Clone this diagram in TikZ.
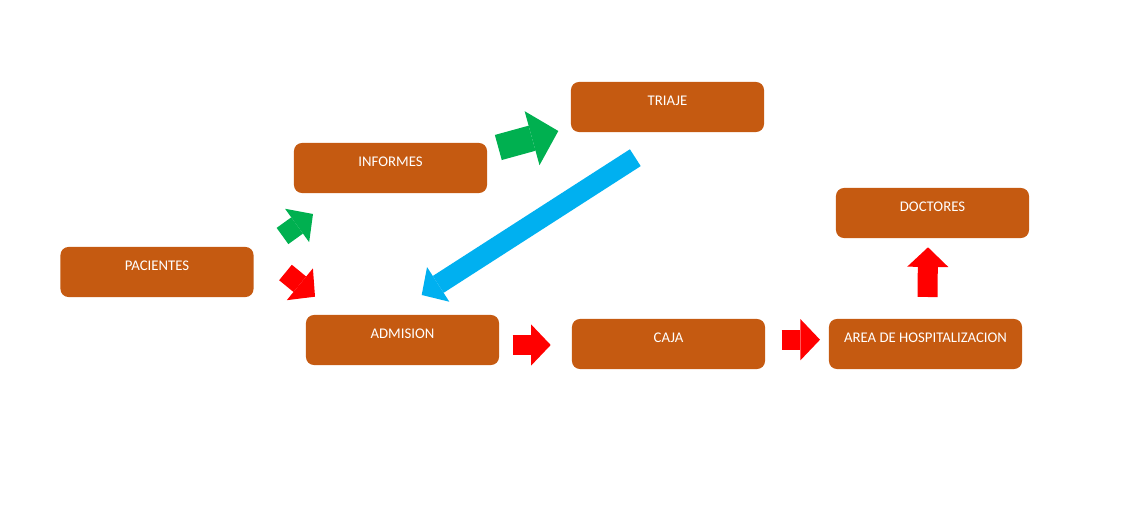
\documentclass[tikz,border=0pt]{standalone}
\usepackage{fontspec}
\setmainfont{Carlito}
\usetikzlibrary{arrows.meta}
\definecolor{cajon}{HTML}{C55A11}
\definecolor{verde}{HTML}{00B050}
\definecolor{celeste}{HTML}{00B0F0}
\definecolor{rojo}{HTML}{FF0000}
\tikzset{
  area/.style={rectangle, rounded corners=0.2cm, fill=cajon, text=white,
    minimum width=4.825cm, minimum height=1.25cm, inner sep=0pt,
    font=\fontsize{10.5}{12}\selectfont, text height=6.7pt, text depth=9pt},
  flecha/.style={draw=#1, line width=0.5cm,
    -{Triangle[width=1.03cm, length=0.49cm, line width=0pt, fill=#1]}},
  flechagrande/.style={draw=#1, line width=0.65cm,
    -{Triangle[width=1.4cm, length=0.68cm, line width=0pt, fill=#1]}}
}
\begin{document}
\begin{tikzpicture}[x=0.025cm, y=-0.025cm]
            \useasboundingbox (0,0) rectangle (1144,523);
            \node(pacientes) [area] at (157,272) {PACIENTES};
            \node(informes) [area] at (390.5,168) {INFORMES};
            \node(triaje) [area] at (667.5,107) {TRIAJE};
            \node(doctores) [area] at (932.5,213) {DOCTORES};
            \node(admision) [area] at (402.5,340) {ADMISION};
            \node(caja) [area] at (668.5,344) {CAJA};
            \node(hosp) [area] at (925.5,344) {AREA DE HOSPITALIZACION};
            \coordinate(pi1) at (282.5,236);
            \coordinate(pi2) at (313,214);
            \coordinate(pa1) at (285.5,272.5);
            \coordinate(pa2) at (315,296.7);
            \coordinate(it1) at (498.3,147.5);
            \coordinate(it2) at (558.3,131);
            \coordinate(ta1) at (635.3,157.7);
            \coordinate(ta2) at (421.7,295);
            \coordinate(ac1) at (512.7,345);
            \coordinate(ac2) at (550.7,345);
            \coordinate(ch1) at (781.7,339.7);
            \coordinate(ch2) at (820,339.7);
            \coordinate(hd1) at (927.5,297);
            \coordinate(hd2) at (928,247.3);
            \draw[flecha=verde](pi1) -- (pi2);
            \draw[flecha=rojo](pa1) -- (pa2);
            \draw[flechagrande=verde](it1) -- (it2);
            \draw[flecha=celeste](ta1) -- (ta2);
            \draw[flecha=rojo](ac1) -- (ac2);
            \draw[flecha=rojo](ch1) -- (ch2);
            \draw[flecha=rojo](hd1) -- (hd2);
            \end{tikzpicture}
\end{document}
